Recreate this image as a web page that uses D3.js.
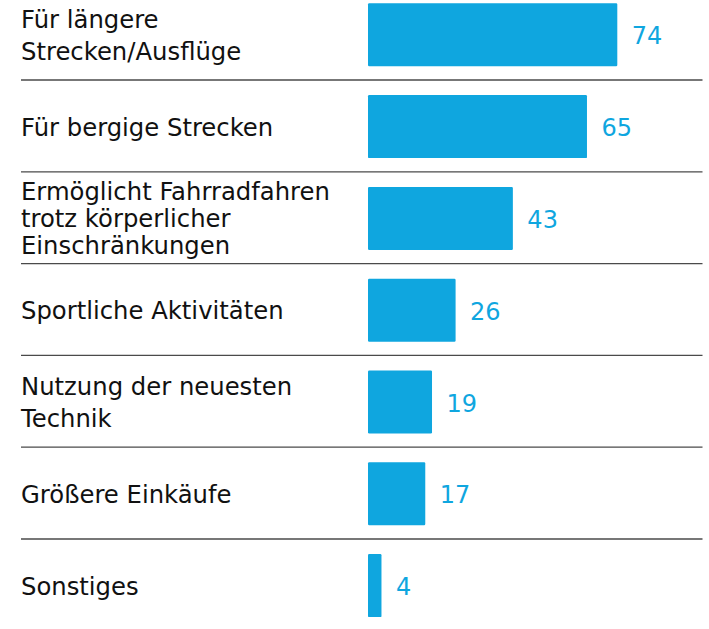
<!DOCTYPE html>
<html>
<head>
<meta charset="utf-8">
<script src="https://cdn.jsdelivr.net/npm/d3@7/dist/d3.min.js"></script>
<style>
  html, body { margin: 0; padding: 0; background: #fff; }
  svg { display: block; }
</style>
</head>
<body>
<svg id="chart" width="709" height="629"></svg>
<script>
// Reasons for using an e-bike (share in %)
const categories = [
  ["Für längere", "Strecken/Ausflüge"],
  ["Für bergige Strecken"],
  ["Ermöglicht Fahrradfahren", "trotz körperlicher", "Einschränkungen"],
  ["Sportliche Aktivitäten"],
  ["Nutzung der neuesten", "Technik"],
  ["Größere Einkäufe"],
  ["Sonstiges"]
];
const values = [74, 65, 43, 26, 19, 17, 4];

const svg = d3.select("#chart");
const barColor = "#0fa6df";
const font = "'DejaVu Sans', sans-serif";

const keys = categories.map(c => c.join(" "));
const y = d3.scaleBand().domain(keys).range([-11.8, -11.8 + 7 * 91.8]).padding(0);
const x = d3.scaleLinear().domain([0, 74]).range([368, 617.3]);
const barH = 63;

const rows = svg.selectAll("g.row")
  .data(keys.map((k, i) => ({ key: k, lines: categories[i], value: values[i] })))
  .join("g")
  .attr("class", "row")
  .attr("transform", d => `translate(0,${y(d.key) + y.bandwidth() / 2 + 0.7})`);

// bars
rows.append("rect")
  .attr("x", x(0))
  .attr("y", -barH / 2)
  .attr("width", d => x(d.value) - x(0))
  .attr("height", barH)
  .attr("rx", 1.2)
  .attr("fill", barColor);

// value labels
rows.append("text")
  .attr("x", d => x(d.value) + 14.5)
  .attr("y", 9.5)
  .attr("font-family", font)
  .attr("font-size", 24)
  .attr("fill", barColor)
  .text(d => d.value);

// category labels (multi-line, centred on the bar)
rows.append("text")
  .attr("font-family", font)
  .attr("font-size", 24.3)
  .attr("fill", "#111")
  .each(function(d) {
    const n = d.lines.length;
    const lh = n === 3 ? 27 : 32.5;
    const t = d3.select(this);
    d.lines.forEach((line, j) => {
      t.append("tspan")
        .attr("x", 21)
        .attr("y", 9 + (j - (n - 1) / 2) * lh)
        .text(line);
    });
  });

// separator lines between rows
svg.selectAll("line.sep")
  .data(keys.slice(1))
  .join("line")
  .attr("class", "sep")
  .attr("x1", 21)
  .attr("x2", 702.5)
  .attr("y1", d => y(d))
  .attr("y2", d => y(d))
  .attr("stroke", "#4a4a4a")
  .attr("stroke-width", 1.3);
</script>
</body>
</html>
